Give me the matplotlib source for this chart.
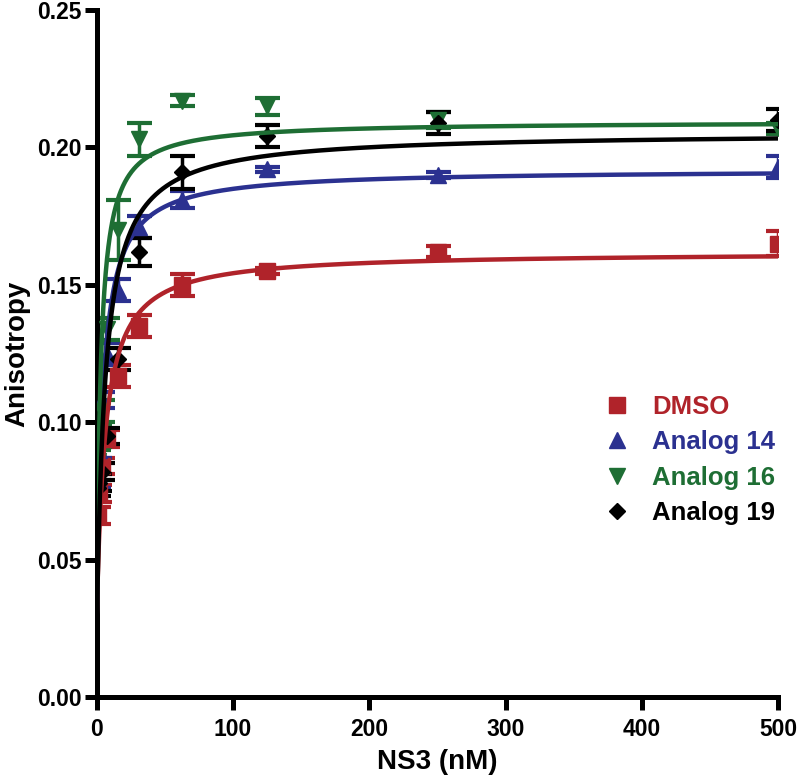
import numpy as np
import matplotlib
matplotlib.use('Agg')
import matplotlib.pyplot as plt

# NS3 concentrations (nM), two-fold dilution series
ns3 = [0.98, 1.95, 3.9, 7.8, 15.6, 31.25, 62.5, 125, 250, 500]

dmso = [0.066, 0.074, 0.084, 0.094, 0.117, 0.135, 0.150, 0.155, 0.162, 0.165]
dmso_err = [0.003, 0.003, 0.003, 0.003, 0.004, 0.004, 0.004, 0.001, 0.002, 0.0045]

an14 = [0.079, 0.090, 0.108, 0.125, 0.148, 0.171, 0.181, 0.192, 0.190, 0.193]
an14_err = [0.003, 0.003, 0.003, 0.004, 0.004, 0.004, 0.003, 0.001, 0.001, 0.004]

an16 = [0.086, 0.095, 0.104, 0.134, 0.170, 0.203, 0.217, 0.215, 0.210, 0.207]
an16_err = [0.004, 0.004, 0.004, 0.004, 0.011, 0.006, 0.002, 0.003, 0.003, 0.002]

an19 = [0.076, 0.078, 0.082, 0.095, 0.123, 0.162, 0.191, 0.204, 0.209, 0.210]
an19_err = [0.003, 0.003, 0.003, 0.003, 0.004, 0.005, 0.006, 0.004, 0.004, 0.004]

# one-site binding fit parameters: bottom, top, Kd (nM)
fit_dmso = (0.030, 0.162, 6.25)
fit_an14 = (0.030, 0.192, 4.55)
fit_an16 = (0.030, 0.2095, 2.9)
fit_an19 = (0.025, 0.2055, 6.2)

labels = ['DMSO', 'Analog 14', 'Analog 16', 'Analog 19']
colors = ['#B0232A', '#2B3190', '#1E6E34', '#000000']
markers = ['s', '^', 'v', 'D']
msizes = [11, 12, 12, 8]

series = [dmso, an14, an16, an19]
errors = [dmso_err, an14_err, an16_err, an19_err]
fits = [fit_dmso, fit_an14, fit_an16, fit_an19]

plt.rcParams['font.family'] = ['Liberation Sans', 'DejaVu Sans']
plt.rcParams['font.weight'] = 'bold'

fig = plt.figure(figsize=(8, 7.77), dpi=100)
ax = fig.add_axes([0.121, 0.103, 0.852, 0.884])

xs = np.linspace(0, 500, 2001)
for y, e, f, lab, c, m, ms in zip(series, errors, fits, labels, colors, markers, msizes):
    ax.errorbar(ns3, y, yerr=e, fmt='none', ecolor=c, elinewidth=2.5, capsize=9, capthick=3, zorder=2)
    ax.plot(ns3, y, ls='none', marker=m, ms=ms, color=c, mec=c, label=lab, zorder=3)
    b, t, kd = f
    ax.plot(xs, b + (t - b) * xs / (kd + xs), color=c, lw=3.2, zorder=4, solid_capstyle='butt')

ax.set_xlim(0, 500)
ax.set_ylim(0, 0.25)
ax.set_xticks([0, 100, 200, 300, 400, 500])
ax.set_yticks([0.00, 0.05, 0.10, 0.15, 0.20, 0.25])
ax.set_yticklabels(['0.00', '0.05', '0.10', '0.15', '0.20', '0.25'])
for lbl in ax.get_xticklabels() + ax.get_yticklabels():
    lbl.set_fontweight('bold')
    lbl.set_fontsize(16.5)

for side in ['top', 'right']:
    ax.spines[side].set_visible(False)
for side in ['left', 'bottom']:
    ax.spines[side].set_linewidth(3.6)
ax.tick_params(width=3.6, length=9, pad=2)
ax.tick_params(axis='x', pad=6)

ax.set_xlabel('NS3 (nM)', fontsize=20, fontweight='bold', labelpad=6)
ax.set_ylabel('Anisotropy', fontsize=20, fontweight='bold')
ax.yaxis.set_label_coords(-0.098, 0.5)

leg = ax.legend(loc='upper left', bbox_to_anchor=(0.73, 0.455), frameon=False,
                labelcolor='linecolor', handletextpad=0.85, labelspacing=0.45,
                handlelength=1.0, borderaxespad=0, prop={'weight': 'bold', 'size': 18.5})

fig.savefig('out.png', dpi=100)
